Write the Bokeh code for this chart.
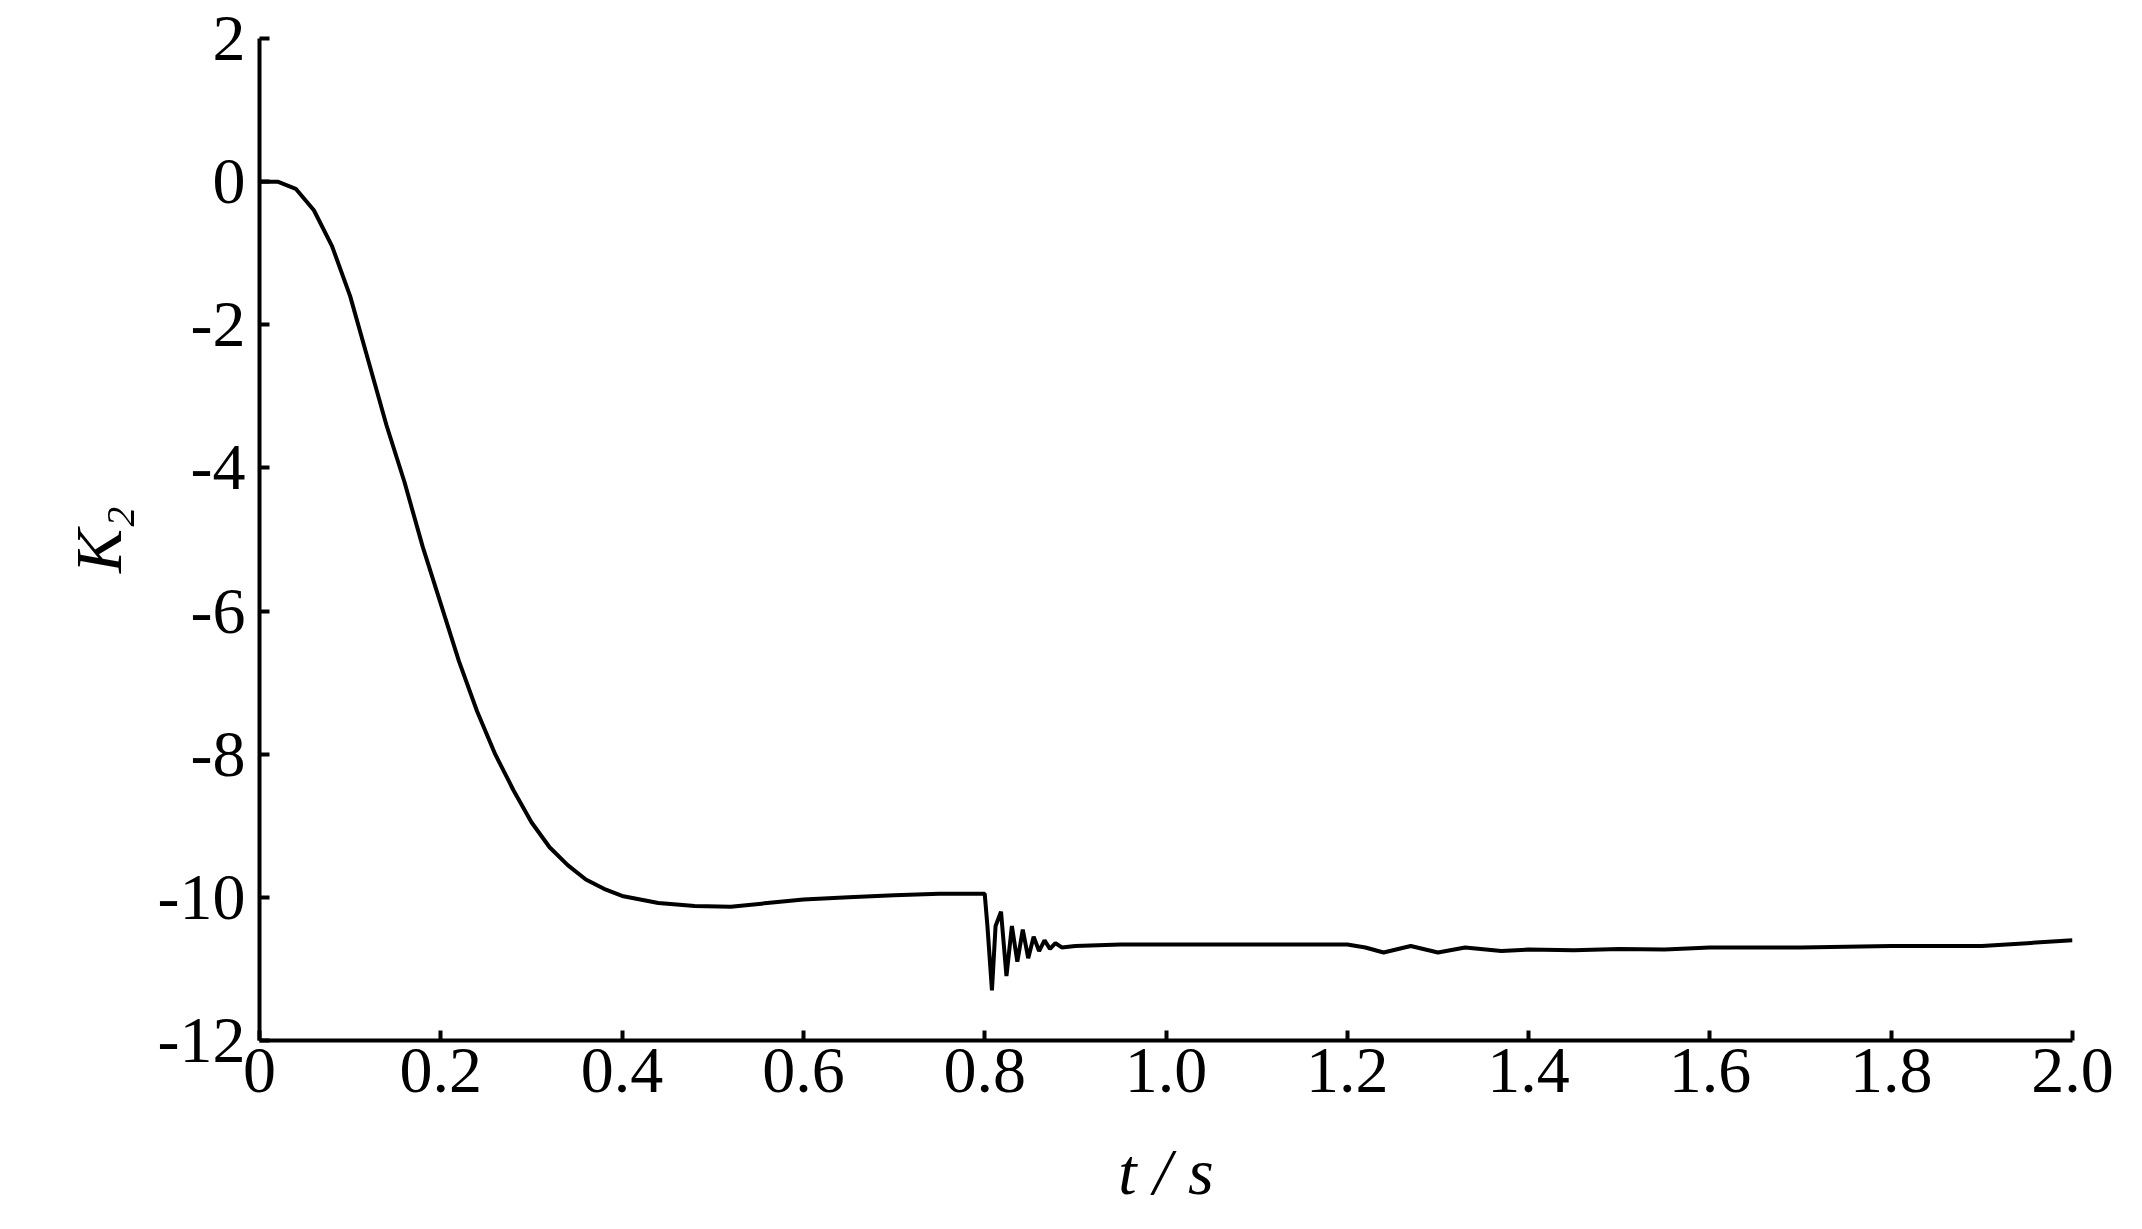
from bokeh.plotting import figure
from bokeh.models import Range1d, FixedTicker
from bokeh.embed import file_html
from bokeh.resources import INLINE

# K2 over time
t = [0.0, 0.02, 0.04, 0.06, 0.08, 0.1, 0.12, 0.14, 0.16, 0.18, 0.2, 0.22, 0.24, 0.26,
     0.28, 0.3, 0.32, 0.34, 0.36, 0.38, 0.4, 0.44, 0.48, 0.52, 0.56, 0.6, 0.65, 0.7,
     0.75, 0.8, 0.803, 0.808, 0.812, 0.818, 0.824, 0.83, 0.836, 0.842, 0.848, 0.854,
     0.86, 0.866, 0.872, 0.878, 0.885, 0.9, 0.95, 1.0, 1.1, 1.2, 1.22, 1.24, 1.27,
     1.3, 1.33, 1.37, 1.4, 1.45, 1.5, 1.55, 1.6, 1.7, 1.8, 1.9, 1.95, 2.0]
k2 = [0.0, 0.0, -0.1, -0.4, -0.9, -1.6, -2.5, -3.4, -4.2, -5.1, -5.9, -6.7, -7.4,
      -8.0, -8.5, -8.95, -9.3, -9.55, -9.75, -9.88, -9.98, -10.08, -10.12, -10.13,
      -10.08, -10.03, -10.0, -9.97, -9.95, -9.95, -10.4, -11.3, -10.4, -10.2, -11.1,
      -10.4, -10.9, -10.45, -10.85, -10.55, -10.75, -10.6, -10.72, -10.64, -10.7,
      -10.68, -10.66, -10.66, -10.66, -10.66, -10.7, -10.77, -10.68, -10.77, -10.7,
      -10.75, -10.73, -10.74, -10.72, -10.73, -10.7, -10.7, -10.68, -10.68, -10.64, -10.6]
x_ticks = [0, 0.2, 0.4, 0.6, 0.8, 1.0, 1.2, 1.4, 1.6, 1.8, 2.0]
x_labels = ["0", "0.2", "0.4", "0.6", "0.8", "1.0", "1.2", "1.4", "1.6", "1.8", "2.0"]
y_ticks = [2, 0, -2, -4, -6, -8, -10, -12]
y_labels = ["2", "0", "-2", "-4", "-6", "-8", "-10", "-12"]

p = figure(width=2120, height=1210, output_backend="svg", toolbar_location=None,
           x_range=Range1d(0, 2), y_range=Range1d(-12, 2),
           min_border_left=259, min_border_right=48, min_border_top=38, min_border_bottom=170)
p.outline_line_color = None
p.xgrid.visible = False
p.ygrid.visible = False

p.line(t, k2, line_color="black", line_width=4)

font = "Liberation Serif"
for ax in (p.xaxis[0], p.yaxis[0]):
    ax.axis_line_color = "black"
    ax.axis_line_width = 4
    ax.major_tick_in = 10
    ax.major_tick_out = 0
    ax.minor_tick_in = 0
    ax.minor_tick_out = 0
    ax.major_tick_line_width = 4
    ax.major_label_text_font = font
    ax.major_label_text_font_size = "66px"
    ax.major_label_text_color = "black"
    ax.axis_label_text_font = font
    ax.axis_label_text_font_size = "66px"
    ax.axis_label_text_font_style = "italic"
    ax.axis_label_text_color = "black"

p.xaxis.ticker = FixedTicker(ticks=x_ticks)
p.xaxis.major_label_overrides = {v: s for v, s in zip(x_ticks, x_labels)}
p.xaxis.major_label_standoff = 8
p.xaxis.axis_label = "t / s"
p.xaxis.axis_label_standoff = 40
p.yaxis.ticker = FixedTicker(ticks=y_ticks)
p.yaxis.major_label_overrides = {v: s for v, s in zip(y_ticks, y_labels)}
p.yaxis.major_label_standoff = 14
p.yaxis.axis_label = "K₂"
p.yaxis.axis_label_standoff = 20

open("out.html", "w").write(file_html(p, INLINE))
